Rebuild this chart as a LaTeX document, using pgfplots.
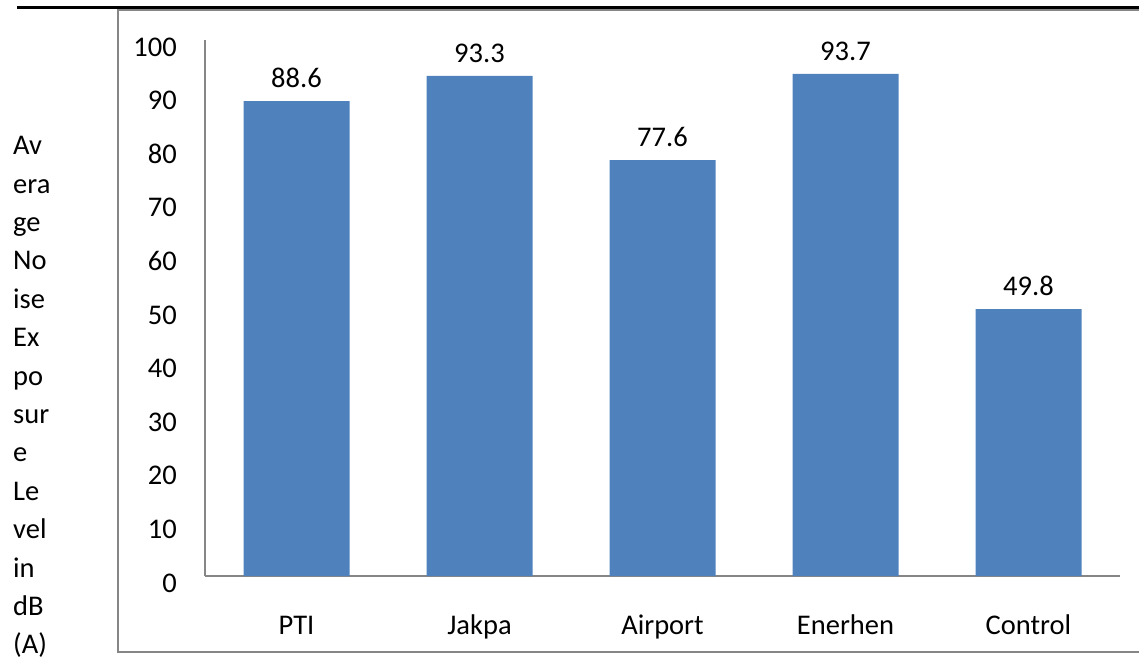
\documentclass[border=0pt]{standalone}
\usepackage{pgfplots}
\pgfplotsset{compat=1.18}
\usepackage{fontspec}
\setmainfont{Carlito}
\definecolor{barblue}{HTML}{4F81BD}
\definecolor{axgray}{HTML}{868686}
\begin{document}
\begin{tikzpicture}
\useasboundingbox (0pt,0pt) rectangle (1139pt,659pt);
% frame
\draw[axgray, line width=2pt] (1139pt,649pt) -- (118pt,649pt) -- (118pt,7pt) -- (1139pt,7pt);
\draw[black, line width=2.5pt] (17pt,651.5pt) -- (1139pt,651.5pt);
% y label broken in lines
\foreach \t [count=\i from 0] in {Av,era,ge,No,ise,Ex,po,sur,e,Le,vel,in,dB,(A)}
  \node[anchor=base west, inner sep=0pt, font=\fontsize{28.5}{32}\selectfont] at (13pt,{(504.3-38.4*\i)*1pt}) {\t};
\begin{axis}[
  at={(205pt,83pt)}, anchor=south west,
  scale only axis, width=915pt, height=536pt,
  xmin=-0.5, xmax=4.5, ymin=0, ymax=100,
  enlargelimits=false, clip=false,
  axis x line*=bottom, axis y line*=left,
  axis line style={axgray, line width=2pt},
  major tick length=0pt,
  ytick={0,10,...,100},
  xtick=data,
  xticklabels={PTI,Jakpa,Airport,Enerhen,Control},
  /pgf/number format/assume math mode=true,
  ticklabel style={font=\fontsize{28.5}{32}\selectfont},
  yticklabel style={anchor=east, inner sep=0pt, xshift=-28pt, yshift=-7pt},
  xticklabel style={anchor=base, inner sep=0pt, yshift=-58pt},
  ybar, bar width=106pt,
  nodes near coords, point meta=explicit symbolic,
  every node near coord/.append style={font=\fontsize{28.5}{32}\selectfont, anchor=base, inner sep=0pt, yshift=13.5pt},
]
\addplot[fill=barblue, draw=none] table[x=x, y=y, meta=lab] {
x y lab
0 88.6 88.6
1 93.3 93.3
2 77.6 77.6
3 93.7 93.7
4 49.8 49.8
};
\end{axis}
\end{tikzpicture}
\end{document}
